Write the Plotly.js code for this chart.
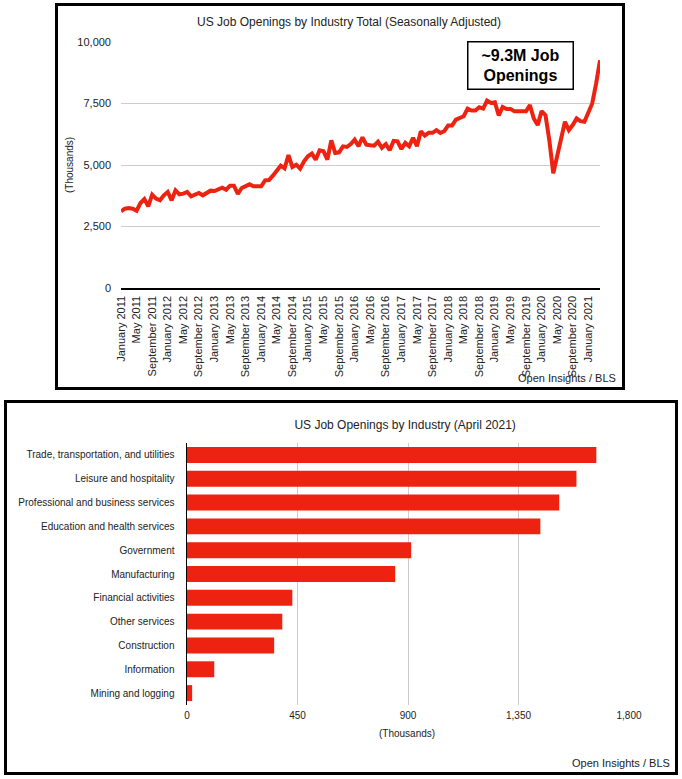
<!DOCTYPE html>
<html><head><meta charset="utf-8">
<script src="https://cdn.plot.ly/plotly-3.0.1.min.js"></script>
<style>
html,body{margin:0;padding:0;background:#fff;}
#box1{position:absolute;left:55px;top:3px;width:570px;height:387px;border:3px solid #000;box-sizing:border-box;}
#box2{position:absolute;left:4px;top:400px;width:674px;height:375px;border:3px solid #000;box-sizing:border-box;}
#top,#bottom{width:100%;height:100%;}
</style></head><body>
<div id="box1"><div id="top"></div></div>
<div id="box2"><div id="bottom"></div></div>
<script>
// ---- Data: US job openings, total nonfarm, seasonally adjusted (thousands), Jan 2011 - Apr 2021
const monthNames = ['January','February','March','April','May','June','July','August','September','October','November','December'];
const startYear = 2011;
const openings2011 = [3117, 3225, 3250, 3225, 3140, 3455, 3618, 3320, 3794, 3631, 3564, 3767];
const openings2012 = [3902, 3564, 3970, 3808, 3835, 3902, 3726, 3794, 3862, 3767, 3862, 3957];
const openings2013 = [3943, 3997, 4079, 3997, 4160, 4160, 3830, 4065, 4133, 4214, 4133, 4133];
const openings2014 = [4133, 4377, 4390, 4566, 4742, 4973, 4864, 5400, 4919, 5014, 4851, 5149];
const openings2015 = [5352, 5461, 5217, 5596, 5556, 5217, 6003, 5488, 5515, 5759, 5732, 5854];
const openings2016 = [6030, 5759, 6125, 5827, 5800, 5786, 5950, 5700, 5850, 5600, 5980, 5960];
const openings2017 = [5650, 5900, 5765, 6103, 5765, 6373, 6198, 6306, 6306, 6414, 6306, 6373];
const openings2018 = [6604, 6604, 6847, 6915, 6982, 7294, 7213, 7213, 7348, 7294, 7618, 7524];
const openings2019 = [7551, 7010, 7361, 7280, 7280, 7185, 7185, 7145, 7185, 7432, 6892, 6622];
const openings2020 = [7189, 7027, 6000, 4662, 5400, 6100, 6757, 6419, 6622, 6892, 6784, 6757];
const openings2021 = [7162, 7500, 8311, 9257];
const totalOpenings = [].concat(openings2011, openings2012, openings2013, openings2014, openings2015,
  openings2016, openings2017, openings2018, openings2019, openings2020, openings2021);
const months = totalOpenings.map((_, i) => monthNames[i % 12] + ' ' + (startYear + Math.floor(i / 12)));
const monthTicks = months.filter((_, i) => i % 4 === 0);
const yTicks = [0, 2500, 5000, 7500, 10000];

// ---- Data: openings by industry, April 2021 (thousands)
const industries = ['Trade, transportation, and utilities', 'Leisure and hospitality',
  'Professional and business services', 'Education and health services', 'Government',
  'Manufacturing', 'Financial activities', 'Other services', 'Construction', 'Information',
  'Mining and logging'];
const industryOpenings = [1667, 1586, 1516, 1439, 913, 848, 429, 388, 355, 111, 21];
const xTicks = [0, 450, 900, 1350, 1800];

const FONT = 'Arial, "Liberation Sans", Helvetica, sans-serif';
const RED = '#ee2211';
const TXT = '#222222';

Plotly.newPlot('top', [{
  x: months, y: totalOpenings, type: 'scatter', mode: 'lines',
  line: {color: RED, width: 4}, hoverinfo: 'skip'
}], {
  width: 564, height: 381,
  margin: {l: 63, r: 22, t: 36, b: 99},
  paper_bgcolor: '#fff', plot_bgcolor: '#fff',
  font: {family: FONT, color: TXT, size: 11},
  showlegend: false,
  title: {text: 'US Job Openings by Industry Total (Seasonally Adjusted)', font: {size: 12, color: TXT},
    x: 0.516, xref: 'container', xanchor: 'center', y: 0.958, yref: 'container', yanchor: 'middle'},
  xaxis: {type: 'category', range: [0, totalOpenings.length - 1], tickvals: monthTicks, ticktext: monthTicks,
    tickangle: -90, tickfont: {size: 11, color: TXT}, showgrid: false, zeroline: false,
    showline: true, linecolor: '#000', linewidth: 1.5, ticks: '', ticklabelstandoff: 2},
  yaxis: {range: [0, 10000], tickvals: yTicks, tickformat: ',', gridcolor: '#cccccc', gridwidth: 1,
    zeroline: false, showline: false, tickfont: {size: 11, color: TXT}, ticks: '', ticklabelstandoff: 9},
  annotations: [
    {text: '(Thousands)', xref: 'paper', yref: 'paper', x: 0, y: 0.5, xshift: -52, textangle: -90,
      showarrow: false, font: {size: 10, color: TXT}, xanchor: 'center', yanchor: 'middle'},
    {text: 'Open Insights / BLS', xref: 'paper', yref: 'paper', x: 1.0376, y: -0.365,
      xanchor: 'right', yanchor: 'middle', showarrow: false, font: {size: 11, color: TXT}},
    {text: '<b>~9.3M Job</b><br><b>Openings</b>', xref: 'paper', yref: 'paper', x: 0.833, y: 0.905,
      xanchor: 'center', yanchor: 'middle', showarrow: false, font: {size: 16, color: '#000'},
      bgcolor: '#fff', bordercolor: '#000', borderwidth: 1.5, borderpad: 3, width: 98, height: 40}
  ]
}, {staticPlot: true, displayModeBar: false});

Plotly.newPlot('bottom', [{
  x: industryOpenings, y: industries, type: 'bar', orientation: 'h',
  marker: {color: RED}, hoverinfo: 'skip'
}], {
  width: 668, height: 369,
  margin: {l: 180, r: 46, t: 40, b: 67},
  paper_bgcolor: '#fff', plot_bgcolor: '#fff',
  font: {family: FONT, color: TXT, size: 10},
  showlegend: false, bargap: 0.33,
  title: {text: 'US Job Openings by Industry (April 2021)', font: {size: 12, color: TXT},
    x: 0.596, xref: 'container', xanchor: 'center', y: 0.94, yref: 'container', yanchor: 'middle'},
  xaxis: {range: [0, 1800], tickvals: xTicks, tickformat: ',', gridcolor: '#cccccc', gridwidth: 1,
    zeroline: false, showline: false, tickfont: {size: 10, color: TXT}, ticks: '', ticklabelstandoff: 3},
  yaxis: {autorange: 'reversed', type: 'category', showgrid: false, zeroline: false,
    showline: true, linecolor: '#000', linewidth: 1.5, ticks: '', tickfont: {size: 10, color: TXT},
    ticklabelstandoff: 9},
  annotations: [
    {text: '(Thousands)', xref: 'paper', yref: 'paper', x: 0.498, y: -0.107,
      xanchor: 'center', yanchor: 'middle', showarrow: false, font: {size: 10, color: TXT}},
    {text: 'Open Insights / BLS', xref: 'paper', yref: 'paper', x: 1.097, y: -0.2216,
      xanchor: 'right', yanchor: 'middle', showarrow: false, font: {size: 11, color: TXT}}
  ]
}, {staticPlot: true, displayModeBar: false});
</script>
</body></html>
